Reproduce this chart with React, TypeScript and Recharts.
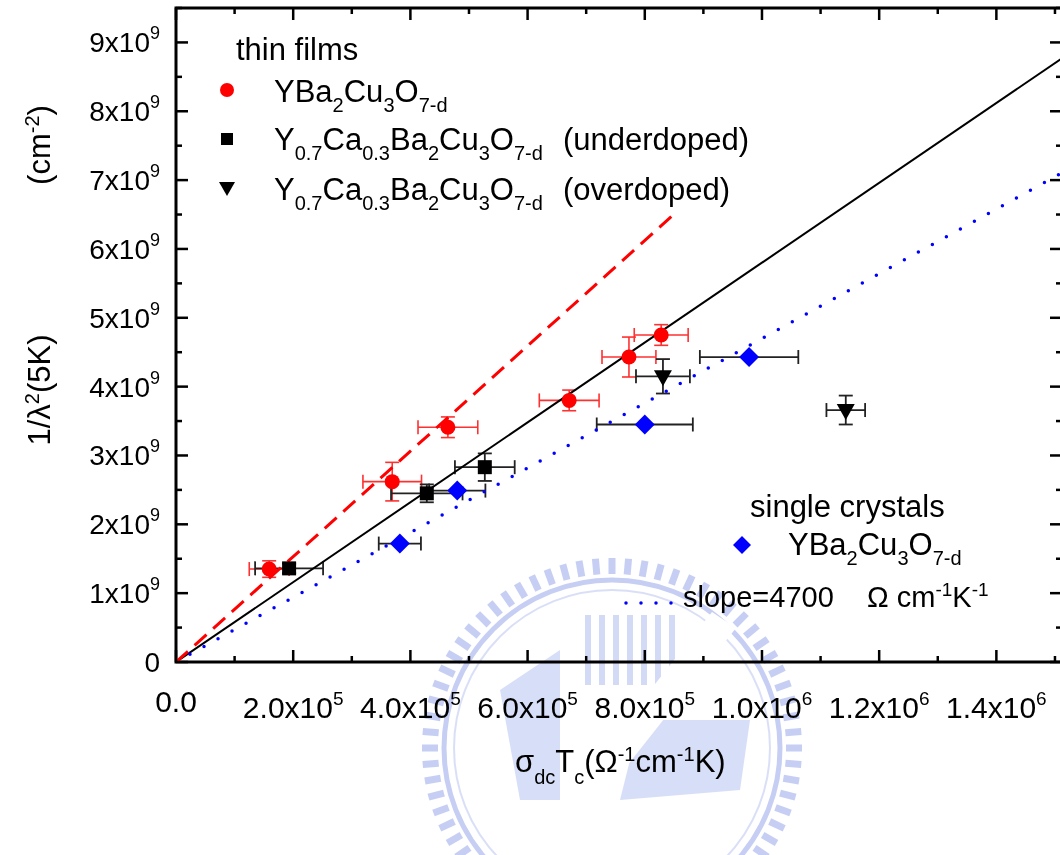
import React from 'react';
import {
  ComposedChart,
  Scatter,
  Line,
  XAxis,
  YAxis,
  ErrorBar,
  ReferenceArea,
} from 'recharts';

// layout of the plot box (page pixels)
const CHART_W = 1066;
const CHART_H = 855;
const PLOT_LEFT = 176;
const PLOT_TOP = 8;
const PLOT_RIGHT = 1062;
const PLOT_BOTTOM = 662;
const Y_AXIS_W = 60;
const X_AXIS_H = 60;

const X_MAX = 1.512e6;
const Y_MAX = 9.5e9;

const FONT = '"Liberation Sans", Arial, Helvetica, sans-serif';

// thin films, YBa2Cu3O7-d
const filmX = [1.59e5, 3.69e5, 4.64e5, 6.71e5, 7.73e5, 8.28e5];
const filmY = [1.35e9, 2.62e9, 3.41e9, 3.8e9, 4.43e9, 4.75e9];
const filmXErr = [0.34e5, 0.5e5, 0.51e5, 0.51e5, 0.46e5, 0.46e5];
const filmYErr = [0.12e9, 0.28e9, 0.15e9, 0.15e9, 0.29e9, 0.15e9];

// thin films, Y0.7Ca0.3Ba2Cu3O7-d underdoped
const underX = [1.93e5, 4.28e5, 5.27e5];
const underY = [1.36e9, 2.45e9, 2.83e9];
const underXErr = [0.58e5, 0.61e5, 0.51e5];
const underYErr = [0.07e9, 0.13e9, 0.2e9];

// thin films, Y0.7Ca0.3Ba2Cu3O7-d overdoped
const overX = [8.31e5, 1.143e6];
const overY = [4.15e9, 3.66e9];
const overXErr = [0.46e5, 0.33e5];
const overYErr = [0.25e9, 0.21e9];

// single crystals, YBa2Cu3O7-d
const crystalX = [3.82e5, 4.8e5, 8.0e5, 9.78e5];
const crystalY = [1.72e9, 2.49e9, 3.45e9, 4.43e9];
const crystalXErr = [0.36e5, 0.48e5, 0.82e5, 0.84e5];

// straight lines through the origin
const allFitX = [0, 1.512e6];
const allFitY = [0, 8.77e9];
const filmFitX = [0, 8.52e5];
const filmFitY = [0, 6.52e9];
const crystalFitX = [0, 1.512e6];
const crystalFitY = [0, 7.106e9];

// axis ticks
const xTicks = [
  0, 1e5, 2e5, 3e5, 4e5, 5e5, 6e5, 7e5, 8e5, 9e5, 1e6, 1.1e6, 1.2e6, 1.3e6,
  1.4e6, 1.5e6,
];
const xLabelTicks = [0, 2e5, 4e5, 6e5, 8e5, 1e6, 1.2e6, 1.4e6];
const xLabelMantissa = ['0.0', '2.0', '4.0', '6.0', '8.0', '1.0', '1.2', '1.4'];
const xLabelExp = ['', '5', '5', '5', '5', '6', '6', '6'];

const yTicks = [
  0, 0.5e9, 1e9, 1.5e9, 2e9, 2.5e9, 3e9, 3.5e9, 4e9, 4.5e9, 5e9, 5.5e9, 6e9,
  6.5e9, 7e9, 7.5e9, 8e9, 8.5e9, 9e9, 9.5e9,
];
const yLabelTicks = [0, 1e9, 2e9, 3e9, 4e9, 5e9, 6e9, 7e9, 8e9, 9e9];
const yLabelMantissa = ['0', '1', '2', '3', '4', '5', '6', '7', '8', '9'];
const yLabelExp = ['', '9', '9', '9', '9', '9', '9', '9', '9', '9'];

const toPoints = (xs: number[], ys: number[], ex?: number[], ey?: number[]) =>
  xs.map((x, i) => ({
    x,
    y: ys[i],
    ex: ex ? ex[i] : 0,
    ey: ey ? ey[i] : 0,
  }));

const filmData = toPoints(filmX, filmY, filmXErr, filmYErr);
const underData = toPoints(underX, underY, underXErr, underYErr);
const overData = toPoints(overX, overY, overXErr, overYErr);
const crystalData = toPoints(crystalX, crystalY, crystalXErr);
const allFitData = toPoints(allFitX, allFitY);
const filmFitData = toPoints(filmFitX, filmFitY);
const crystalFitData = toPoints(crystalFitX, crystalFitY);

// marker shapes
const RedDot = (p: any) => <circle cx={p.cx} cy={p.cy} r={7.5} fill="#ff0000" />;
const BlackSquare = (p: any) => (
  <rect x={p.cx - 7} y={p.cy - 7} width={14} height={14} fill="#000" />
);
const DownTriangle = (p: any) => (
  <polygon
    points={`${p.cx - 9},${p.cy - 6} ${p.cx + 9},${p.cy - 6} ${p.cx},${p.cy + 10}`}
    fill="#000"
  />
);
const BlueDiamond = (p: any) => (
  <polygon
    points={`${p.cx},${p.cy - 10} ${p.cx + 10},${p.cy} ${p.cx},${p.cy + 10} ${p.cx - 10},${p.cy}`}
    fill="#0000ff"
  />
);

// inward ticks on bottom + top, labels under the bottom axis
const XTick = (props: any) => {
  const { x, y, payload } = props;
  const idx = xLabelTicks.findIndex((v) => Math.abs(v - payload.value) < 1);
  const len = idx >= 0 ? 12 : 6;
  const exp = idx >= 0 ? xLabelExp[idx] : '';
  return (
    <g>
      <line x1={x} y1={y} x2={x} y2={y - len} stroke="#000" strokeWidth={2.5} />
      <line x1={x} y1={PLOT_TOP} x2={x} y2={PLOT_TOP + len} stroke="#000" strokeWidth={2.5} />
      {idx >= 0 && (
        <text
          x={x}
          y={y + (exp ? 56 : 50)}
          textAnchor="middle"
          fontSize={30}
          fontFamily={FONT}
          fill="#000"
        >
          {xLabelMantissa[idx] + (exp ? 'x10' : '')}
          {exp && (
            <tspan dy={-13} fontSize={19}>
              {exp}
            </tspan>
          )}
        </text>
      )}
    </g>
  );
};

// inward ticks on left + right, labels left of the axis
const YTick = (props: any) => {
  const { x, y, payload } = props;
  const idx = yLabelTicks.findIndex((v) => Math.abs(v - payload.value) < 1);
  const len = idx >= 0 ? 12 : 6;
  const exp = idx >= 0 ? yLabelExp[idx] : '';
  return (
    <g>
      <line x1={x} y1={y} x2={x + len} y2={y} stroke="#000" strokeWidth={2.5} />
      <line x1={PLOT_RIGHT} y1={y} x2={PLOT_RIGHT - len} y2={y} stroke="#000" strokeWidth={2.5} />
      {idx >= 0 && (
        <text
          x={x - 16}
          y={y + 10}
          textAnchor="end"
          fontSize={28}
          fontFamily={FONT}
          fill="#000"
        >
          {yLabelMantissa[idx] + (exp ? 'x10' : '')}
          {exp && (
            <tspan dy={-13} fontSize={18}>
              {exp}
            </tspan>
          )}
        </text>
      )}
    </g>
  );
};

// text runs with sub/superscripts
type Run = [string, 'n' | 'sub' | 'sup'];
const runs = (parts: Run[], small = 20, subShift = 10, supShift = 11) => {
  let level = 0;
  return parts.map(([t, kind], i) => {
    const target = kind === 'sub' ? subShift : kind === 'sup' ? -supShift : 0;
    const dy = target - level;
    level = target;
    return (
      <tspan key={i} dy={dy === 0 ? undefined : dy} fontSize={kind === 'n' ? undefined : small}>
        {t}
      </tspan>
    );
  });
};

const ybco: Run[] = [
  ['YBa', 'n'],
  ['2', 'sub'],
  ['Cu', 'n'],
  ['3', 'sub'],
  ['O', 'n'],
  ['7-d', 'sub'],
];
const ycbco: Run[] = [
  ['Y', 'n'],
  ['0.7', 'sub'],
  ['Ca', 'n'],
  ['0.3', 'sub'],
  ['Ba', 'n'],
  ['2', 'sub'],
  ['Cu', 'n'],
  ['3', 'sub'],
  ['O', 'n'],
  ['7-d', 'sub'],
];

// faint university emblem behind the plot
const Emblem = () => {
  const cx = 612;
  const cy = 748;
  const teeth = Array.from({ length: 72 }, (_, i) => (i * 360) / 72);
  const stripes = Array.from({ length: 7 }, (_, i) => i);
  return (
    <svg
      width={1060}
      height={855}
      style={{ position: 'absolute', left: 0, top: 0 }}
    >
      <g fill="#bcc6f2" stroke="none" opacity={0.85}>
        {teeth.map((a) => (
          <rect
            key={a}
            x={cx - 3.5}
            y={cy - 190}
            width={7}
            height={16}
            transform={`rotate(${a} ${cx} ${cy})`}
          />
        ))}
        <circle cx={cx} cy={cy} r={168} fill="none" stroke="#bcc6f2" strokeWidth={5} />
        <circle cx={cx} cy={cy} r={158} fill="none" stroke="#d3daf6" strokeWidth={2} />
        <polygon points="500,690 560,650 560,800 520,800" fill="#d0d8f6" />
        {stripes.map((i) => (
          <rect key={i} x={585 + i * 14} y={615} width={6} height={70} fill="#ccd4f5" />
        ))}
        <polygon points="640,720 750,720 740,790 620,800" fill="#d0d8f6" />
        <polygon points="712,612 736,628 600,800 576,784" fill="#ffffff" />
      </g>
    </svg>
  );
};

const App: React.FC = () => {
  return (
    <div
      style={{
        position: 'absolute',
        left: 0,
        top: 0,
        width: 1060,
        height: 855,
        overflow: 'hidden',
        background: '#fff',
        fontFamily: FONT,
      }}
    >
      <Emblem />
      <div style={{ position: 'absolute', left: 0, top: 0 }}>
        <ComposedChart
          width={CHART_W}
          height={CHART_H}
          margin={{
            top: PLOT_TOP,
            right: CHART_W - PLOT_RIGHT,
            left: PLOT_LEFT - Y_AXIS_W,
            bottom: CHART_H - PLOT_BOTTOM - X_AXIS_H,
          }}
        >
          <XAxis
            type="number"
            dataKey="x"
            domain={[0, X_MAX]}
            allowDataOverflow
            ticks={xTicks}
            interval={0}
            height={X_AXIS_H}
            axisLine={false}
            tickLine={false}
            tickSize={0}
            tickMargin={0}
            tick={<XTick />}
          />
          <YAxis
            type="number"
            dataKey="y"
            domain={[0, Y_MAX]}
            allowDataOverflow
            ticks={yTicks}
            interval={0}
            width={Y_AXIS_W}
            axisLine={false}
            tickLine={false}
            tickSize={0}
            tickMargin={0}
            tick={<YTick />}
          />
          <ReferenceArea
            x1={0}
            x2={X_MAX}
            y1={0}
            y2={Y_MAX}
            fill="none"
            fillOpacity={0}
            stroke="#000"
            strokeWidth={3}
            ifOverflow="visible"
          />
          <Scatter data={filmData} shape={RedDot} isAnimationActive={false}>
            <ErrorBar dataKey="ex" direction="x" width={7} stroke="#ff3030" strokeWidth={1.6} isAnimationActive={false} />
            <ErrorBar dataKey="ey" direction="y" width={7} stroke="#ff3030" strokeWidth={1.6} isAnimationActive={false} />
          </Scatter>
          <Scatter data={underData} shape={BlackSquare} isAnimationActive={false}>
            <ErrorBar dataKey="ex" direction="x" width={7} stroke="#222" strokeWidth={1.8} isAnimationActive={false} />
            <ErrorBar dataKey="ey" direction="y" width={7} stroke="#222" strokeWidth={1.8} isAnimationActive={false} />
          </Scatter>
          <Scatter data={overData} shape={DownTriangle} isAnimationActive={false}>
            <ErrorBar dataKey="ex" direction="x" width={7} stroke="#222" strokeWidth={1.8} isAnimationActive={false} />
            <ErrorBar dataKey="ey" direction="y" width={7} stroke="#222" strokeWidth={1.8} isAnimationActive={false} />
          </Scatter>
          <Scatter data={crystalData} shape={BlueDiamond} isAnimationActive={false}>
            <ErrorBar dataKey="ex" direction="x" width={7} stroke="#222" strokeWidth={1.8} isAnimationActive={false} />
          </Scatter>
          <Line
            data={allFitData}
            dataKey="y"
            type="linear"
            stroke="#000"
            strokeWidth={2}
            dot={false}
            activeDot={false}
            isAnimationActive={false}
          />
          <Line
            data={filmFitData}
            dataKey="y"
            type="linear"
            stroke="#ff0000"
            strokeWidth={3}
            strokeDasharray="16 9"
            dot={false}
            activeDot={false}
            isAnimationActive={false}
          />
          <Line
            data={crystalFitData}
            dataKey="y"
            type="linear"
            stroke="#0000ff"
            strokeWidth={3.5}
            strokeLinecap="round"
            strokeDasharray="0 16"
            dot={false}
            activeDot={false}
            isAnimationActive={false}
          />
        </ComposedChart>
      </div>

      {/* legends and axis titles */}
      <svg
        width={1060}
        height={855}
        style={{ position: 'absolute', left: 0, top: 0, pointerEvents: 'none' }}
        fontFamily={FONT}
        fill="#000"
      >
        <text x={236} y={60} fontSize={31}>
          thin films
        </text>
        <circle cx={227} cy={90} r={7} fill="#ff0000" />
        <text x={274} y={102} fontSize={31}>
          {runs(ybco)}
        </text>
        <rect x={221} y={133} width={12} height={12} fill="#000" />
        <text x={274} y={150} fontSize={31}>
          {runs(ycbco)}
        </text>
        <text x={563} y={150} fontSize={31}>
          (underdoped)
        </text>
        <polygon points="219,182 235,182 227,196" fill="#000" />
        <text x={274} y={200} fontSize={31}>
          {runs(ycbco)}
        </text>
        <text x={563} y={200} fontSize={31}>
          (overdoped)
        </text>

        <text x={750} y={517} fontSize={31}>
          single crystals
        </text>
        <polygon points="742,536 751,545 742,554 733,545" fill="#0000ff" />
        <text x={788} y={555} fontSize={31}>
          {runs(ybco)}
        </text>
        <line
          x1={626}
          y1={603}
          x2={672}
          y2={603}
          stroke="#0000ff"
          strokeWidth={3.5}
          strokeLinecap="round"
          strokeDasharray="0 15"
        />
        <text x={683} y={607} fontSize={29}>
          slope=4700
        </text>
        <text x={867} y={607} fontSize={29}>
          {runs(
            [
              ['Ω cm', 'n'],
              ['-1', 'sup'],
              ['K', 'n'],
              ['-1', 'sup'],
            ],
            19,
            10,
            11
          )}
        </text>

        {/* x axis title */}
        <text x={515} y={772} fontSize={31}>
          {runs(
            [
              ['σ', 'n'],
              ['dc', 'sub'],
              ['T', 'n'],
              ['c', 'sub'],
              ['(Ω', 'n'],
              ['-1', 'sup'],
              ['cm', 'n'],
              ['-1', 'sup'],
              ['K)', 'n'],
            ],
            20,
            12,
            11
          )}
        </text>

        {/* y axis title */}
        <text
          transform="translate(50 390) rotate(-90)"
          textAnchor="middle"
          fontSize={31}
        >
          {runs(
            [
              ['1/λ', 'n'],
              ['2', 'sup'],
              ['(5K)', 'n'],
            ],
            20,
            10,
            11
          )}
        </text>
        <text
          transform="translate(50 145) rotate(-90)"
          textAnchor="middle"
          fontSize={31}
        >
          {runs(
            [
              ['(cm', 'n'],
              ['-2', 'sup'],
              [')', 'n'],
            ],
            20,
            10,
            11
          )}
        </text>
      </svg>
    </div>
  );
};

export default App;
